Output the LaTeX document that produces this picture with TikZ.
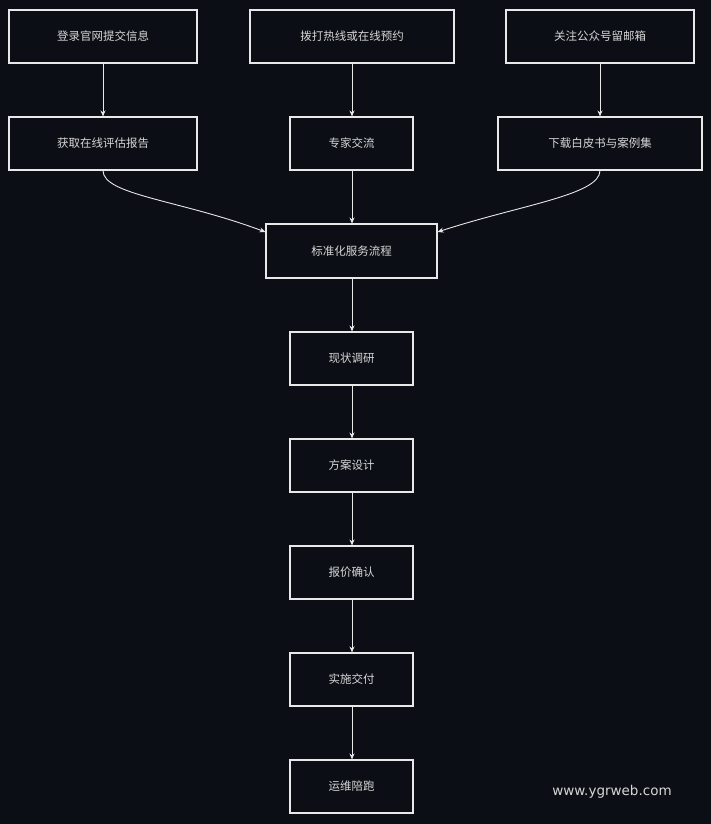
\documentclass[tikz,border=0pt]{standalone}
\usepackage{fontspec}
\setmainfont{Noto Sans CJK SC}
\newfontfamily\wm{DejaVu Sans}
\usetikzlibrary{arrows.meta}
\definecolor{bg}{HTML}{0B0E14}
\definecolor{fg}{HTML}{E8E8E8}
\definecolor{tx}{HTML}{D6D6D6}
\begin{document}
\begin{tikzpicture}[x=1pt,y=-1pt,
  bx/.style={draw=fg,line width=1.1pt,text=tx,font=\fontsize{11.5}{13}\selectfont,inner sep=0},
  ar/.style={draw=fg,line width=0.9pt,-{Stealth[length=6pt,width=5pt]}}]
\fill[bg] (0,0) rectangle (711,824);
\useasboundingbox (0,0) rectangle (711,824);
\newcommand\bxn[6]{\node[bx,minimum width=#4-#2,minimum height=#5-#3] (#1) at ({(#2+#4)/2},{(#3+#5)/2}) {#6};}
\bxn{a1}{9}{10}{197}{63}{登录官网提交信息}
\bxn{a2}{250}{10}{454}{63}{拨打热线或在线预约}
\bxn{a3}{506}{10}{694}{63}{关注公众号留邮箱}
\bxn{b1}{9}{117}{197}{170}{获取在线评估报告}
\bxn{b2}{290}{117}{413}{170}{专家交流}
\bxn{b3}{498}{117}{702}{170}{下载白皮书与案例集}
\bxn{s}{266}{224}{437}{278}{标准化服务流程}
\bxn{c1}{290}{332}{413}{385}{现状调研}
\bxn{c2}{290}{439}{413}{492}{方案设计}
\bxn{c3}{290}{546}{413}{599}{报价确认}
\bxn{c4}{290}{653}{413}{706}{实施交付}
\bxn{c5}{290}{760}{413}{813}{运维陪跑}
\draw[ar] (a1.south -| 103,0) -- (b1.north -| 103,0);
\draw[ar] (a2.south -| 352,0) -- (b2.north -| 352,0);
\draw[ar] (a3.south -| 600,0) -- (b3.north -| 600,0);
\draw[ar] (b1.south -| 103,0) .. controls (103,195) and (180,200) .. (s.west |- 0,232);
\draw[ar] (b3.south -| 600,0) .. controls (600,195) and (520,205) .. (s.east |- 0,232);
\draw[ar] (b2.south -| 352,0) -- (s.north -| 352,0);
\draw[ar] (s.south -| 352,0) -- (c1.north -| 352,0);
\draw[ar] (c1.south -| 352,0) -- (c2.north -| 352,0);
\draw[ar] (c2.south -| 352,0) -- (c3.north -| 352,0);
\draw[ar] (c3.south -| 352,0) -- (c4.north -| 352,0);
\draw[ar] (c4.south -| 352,0) -- (c5.north -| 352,0);
\node[text=tx,font=\wm\fontsize{13.5}{15}\selectfont] (w) at (612,792) {www.ygrweb.com};
\end{tikzpicture}
\end{document}
